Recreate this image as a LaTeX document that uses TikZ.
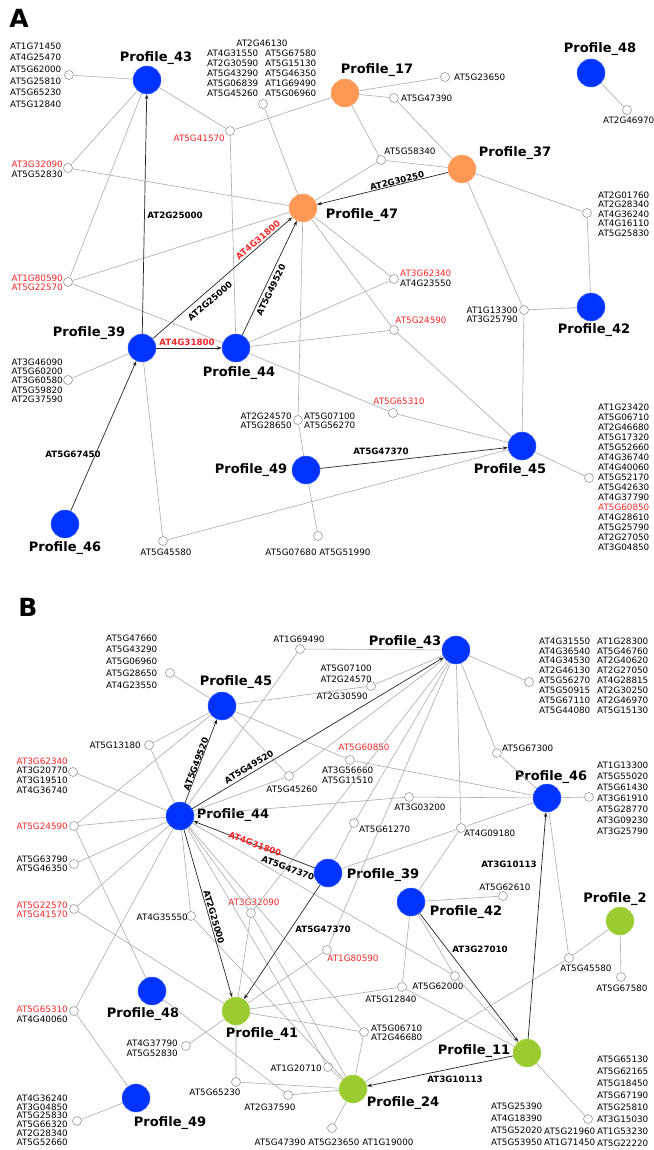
\documentclass[tikz,border=0pt]{standalone}
\usepackage{fontspec}
\setmainfont{DejaVu Sans}
\usetikzlibrary{arrows.meta}
\definecolor{pblue}{RGB}{0,51,255}
\definecolor{porange}{RGB}{253,151,84}
\definecolor{pgreen}{RGB}{154,204,50}
\definecolor{gred}{RGB}{255,40,40}
\definecolor{egray}{RGB}{172,172,172}
\tikzset{
 prof/.style={circle, minimum size=28pt, inner sep=0pt, draw=#1!75!white, line width=0.5pt, fill=#1},
 gc/.style={circle, minimum size=9pt, inner sep=0pt, draw=black!40, fill=white, line width=0.6pt},
 gl/.style={font=\fontsize{8.8}{10}\selectfont, inner sep=0pt, align=left},
 pl/.style={font=\fontsize{13}{15}\selectfont\bfseries, inner sep=0pt},
 el/.style={font=\fontsize{8.7}{10}\selectfont\bfseries, inner sep=0pt},
 ge/.style={draw=egray, line width=0.6pt},
 ar/.style={draw=black!85, line width=0.7pt, -{Stealth[length=5pt,width=3.6pt]}},
 pan/.style={font=\fontsize{25}{28}\selectfont\bfseries, inner sep=0pt},
}
\begin{document}
\begin{tikzpicture}[x=1pt,y=-1pt]
\useasboundingbox[fill=white] (0,0) rectangle (653,1150);
% ================= PANEL A =================
\node[pan] (labA) at (19,18) {A};
% profiles
\node[prof=pblue] (P43) at (147,80) {};
\node[prof=porange] (P17) at (345,93) {};
\node[prof=porange] (P37) at (462,169) {};
\node[prof=pblue] (P48) at (591,73) {};
\node[prof=porange] (P47) at (303,208) {};
\node[prof=pblue] (P39) at (142,348) {};
\node[prof=pblue] (P44) at (236,348) {};
\node[prof=pblue] (P42) at (591,307) {};
\node[prof=pblue] (P45) at (522,446) {};
\node[prof=pblue] (P49) at (306,470) {};
\node[prof=pblue] (P46) at (65,524) {};
\node[pl] (lP43) at (156,58) {Profile\_43};
\node[pl] (lP17) at (377,70) {Profile\_17};
\node[pl] (lP37) at (515,153) {Profile\_37};
\node[pl] (lP48) at (600,49) {Profile\_48};
\node[pl] (lP47) at (362,215) {Profile\_47};
\node[pl] (lP39) at (89,333) {Profile\_39};
\node[pl] (lP44) at (239,373) {Profile\_44};
\node[pl] (lP42) at (594,330) {Profile\_42};
\node[pl] (lP45) at (510,470) {Profile\_45};
\node[pl] (lP49) at (251,470) {Profile\_49};
\node[pl] (lP46) at (65,548) {Profile\_46};
% gene circles
\node[gc] (a1) at (69,75) {};
\node[gc] (a2) at (263,104) {};
\node[gc] (a3) at (230,131) {};
\node[gc] (a4) at (68,168) {};
\node[gc] (a5) at (445,77) {};
\node[gc] (a6) at (394,98) {};
\node[gc] (a7) at (381,160) {};
\node[gc] (a8) at (627,110) {};
\node[gc] (a9) at (587,213) {};
\node[gc] (a10) at (68,282) {};
\node[gc] (a11) at (394,279) {};
\node[gc] (a12) at (394,330) {};
\node[gc] (a13) at (524,310) {};
\node[gc] (a14) at (68,380) {};
\node[gc] (a15) at (298,420) {};
\node[gc] (a16) at (393,413) {};
\node[gc] (a17) at (163,541) {};
\node[gc] (a18) at (318,536) {};
\node[gc] (a19) at (589,478) {};
% gene labels
\node[gl, anchor=west, font=\fontsize{8.8}{11.6}\selectfont] (ta1) at (10,75) {AT1G71450\\AT4G25470\\AT5G62000\\AT5G25810\\AT5G65230\\AT5G12840};
\node[gl] (ta2a) at (262,43) {AT2G46130};
\node[gl, anchor=west] (ta2b) at (207,73) {AT4G31550\\AT2G30590\\AT5G43290\\AT5G06839\\AT5G45260};
\node[gl, anchor=west] (ta2c) at (265,73) {AT5G67580\\AT5G15130\\AT5G46350\\AT1G69490\\AT5G06960};
\node[gl, anchor=east, text=gred] (ta3) at (225,138) {AT5G41570};
\node[gl, anchor=east] (ta4) at (63,169) {\textcolor{gred}{AT3G32090}\\AT5G52830};
\node[gl, anchor=west] (ta5) at (454,77) {AT5G23650};
\node[gl, anchor=west] (ta6) at (401,98) {AT5G47390};
\node[gl] (ta7) at (410,151) {AT5G58340};
\node[gl, anchor=west] (ta8) at (603,120) {AT2G46970};
\node[gl, anchor=west, font=\fontsize{8.8}{9.6}\selectfont] (ta9) at (598,214) {AT2G01760\\AT2G28340\\AT4G36240\\AT4G16110\\AT5G25830};
\node[gl, anchor=east, text=gred, font=\fontsize{8.8}{9.2}\selectfont] (ta10) at (63,282.5) {AT1G80590\\AT5G22570};
\node[gl, anchor=west] (ta11) at (400,278) {\textcolor{gred}{AT3G62340}\\AT4G23550};
\node[gl, text=gred] (ta12) at (421,320) {AT5G24590};
\node[gl, anchor=east, font=\fontsize{8.8}{9.2}\selectfont] (ta13) at (518,314.5) {AT1G13300\\AT3G25790};
\node[gl, anchor=east, font=\fontsize{8.8}{9.3}\selectfont] (ta14) at (63,380.5) {AT3G46090\\AT5G60200\\AT3G60580\\AT5G59820\\AT2G37590};
\node[gl, anchor=east, font=\fontsize{8.8}{9.2}\selectfont] (ta15a) at (292,420.5) {AT2G24570\\AT5G28650};
\node[gl, anchor=west, font=\fontsize{8.8}{9.2}\selectfont] (ta15b) at (304,420.5) {AT5G07100\\AT5G56270};
\node[gl, text=gred] (ta16) at (399,401) {AT5G65310};
\node[gl] (ta17) at (166,552) {AT5G45580};
\node[gl] (ta18) at (318,552) {AT5G07680 AT5G51990};
\node[gl, anchor=west] (ta19) at (598,477) {AT1G23420\\AT5G06710\\AT2G46680\\AT5G17320\\AT5G52660\\AT4G36740\\AT4G40060\\AT5G52170\\AT5G42630\\AT4G37790\\\textcolor{gred}{AT5G60850}\\AT4G28610\\AT5G25790\\AT2G27050\\AT3G04850};
% gray edges
\draw[ge] (P43)--(a1) (P43)--(a3) (P43)--(a4) (P43)--(a10);
\draw[ge] (a3)--(P17) (a3)--(P44) (a2)--(P47) (a4)--(P47);
\draw[ge] (P17)--(a5) (P17)--(a6) (P17)--(a7) (a6)--(P37) (a7)--(P37) (a7)--(P47);
\draw[ge] (P37)--(a9) (P37)--(a13) (a9)--(P42) (P48)--(a8);
\draw[ge] (a13)--(P42) (a13)--(P45);
\draw[ge] (a10)--(P47) (a10)--(P44);
\draw[ge] (P47)--(a11) (P47)--(a12) (P47)--(a15);
\draw[ge] (P44)--(a11) (P44)--(a12) (P44)--(a16);
\draw[ge] (a12)--(P45) (a16)--(P45);
\draw[ge] (P39)--(a14) (P39)--(a17) (a17)--(P45);
\draw[ge] (a15)--(P49) (P49)--(a18) (P45)--(a19);
% arrows
\draw[ar] (P39)--(P43);
\draw[ar] (P39)--(P44);
\draw[ar] (P39)--(P47);
\draw[ar] (P44)--(P47);
\draw[ar] (P37)--(P47);
\draw[ar] (P46)--(P39);
\draw[ar] (P49)--(P45);
\node[el] (e1) at (175,215) {AT2G25000};
\node[el, text=gred] (e2) at (187,342) {AT4G31800};
\node[el, rotate=41] (e3) at (210,301) {AT2G25000};
\node[el, text=gred, rotate=41] (e4) at (258,240) {AT4G31800};
\node[el, rotate=64] (e5) at (271,290) {AT5G49520};
\node[el, rotate=14] (e6) at (397,181) {AT2G30250};
\node[el] (e7) at (73,454) {AT5G67450};
\node[el] (e8) at (381,451) {AT5G47370};
% ================= PANEL B =================
\node[pan] (labB) at (28,607) {B};
\node[prof=pblue] (Q45) at (222,706) {};
\node[prof=pblue] (Q43) at (456,650) {};
\node[prof=pblue] (Q44) at (180,816) {};
\node[prof=pblue] (Q46) at (547,798) {};
\node[prof=pblue] (Q39) at (328,873) {};
\node[prof=pblue] (Q42) at (411,902) {};
\node[prof=pgreen] (Q2) at (620,921) {};
\node[prof=pblue] (Q48) at (152,991) {};
\node[prof=pgreen] (Q41) at (236,1011) {};
\node[prof=pgreen] (Q11) at (527,1053) {};
\node[prof=pgreen] (Q24) at (353,1089) {};
\node[prof=pblue] (Q49) at (136,1098) {};
\node[pl] (lQ45) at (236,682) {Profile\_45};
\node[pl] (lQ43) at (405,642) {Profile\_43};
\node[pl] (lQ44) at (233,815) {Profile\_44};
\node[pl] (lQ46) at (551,777) {Profile\_46};
\node[pl] (lQ39) at (383,875) {Profile\_39};
\node[pl] (lQ42) at (466,912) {Profile\_42};
\node[pl] (lQ2) at (615,899) {Profile\_2};
\node[pl] (lQ48) at (143,1014) {Profile\_48};
\node[pl] (lQ41) at (262,1034) {Profile\_41};
\node[pl] (lQ11) at (474,1051) {Profile\_11};
\node[pl] (lQ24) at (403,1103) {Profile\_24};
\node[pl] (lQ49) at (170,1123) {Profile\_49};
% gene circles
\node[gc] (g1) at (170,673) {};
\node[gc] (g2) at (149,745) {};
\node[gc] (g3) at (300,649) {};
\node[gc] (g4) at (371,686) {};
\node[gc] (g5) at (529,682) {};
\node[gc] (g6) at (497,753) {};
\node[gc] (g7) at (73,772) {};
\node[gc] (g8) at (289,776) {};
\node[gc] (g9) at (350,760) {};
\node[gc] (g10) at (74,826) {};
\node[gc] (g11) at (74,864) {};
\node[gc] (g12) at (74,909) {};
\node[gc] (g13) at (191,916) {};
\node[gc] (g14) at (251,913) {};
\node[gc] (g15) at (409,797) {};
\node[gc] (g16) at (354,823) {};
\node[gc] (g17) at (461,828) {};
\node[gc] (g18) at (589,797) {};
\node[gc] (g19) at (503,896) {};
\node[gc] (g20) at (327,950) {};
\node[gc] (g21) at (569,958) {};
\node[gc] (g22) at (621,977) {};
\node[gc] (g23) at (455,976) {};
\node[gc] (g24) at (402,987) {};
\node[gc] (g25) at (364,1032) {};
\node[gc] (g26) at (74,1011) {};
\node[gc] (g27) at (186,1046) {};
\node[gc] (g28) at (328,1067) {};
\node[gc] (g29) at (236,1082) {};
\node[gc] (g30) at (288,1095) {};
\node[gc] (g31) at (77,1121) {};
\node[gc] (g32) at (588,1119) {};
\node[gc] (g33) at (332,1128) {};
% gene labels
\node[gl, anchor=west, font=\fontsize{8.8}{11.75}\selectfont] (tg1) at (106,661.5) {AT5G47660\\AT5G43290\\AT5G06960\\AT5G28650\\AT4G23550};
\node[gl, anchor=east] (tg2) at (141,745) {AT5G13180};
\node[gl] (tg3) at (299,639) {AT1G69490};
\node[gl, anchor=east, font=\fontsize{8.8}{11}\selectfont] (tg4a) at (372,673.5) {AT5G07100\\AT2G24570};
\node[gl, anchor=east] (tg4b) at (368,696) {AT2G30590};
\node[gl, anchor=west, font=\fontsize{8.8}{9.86}\selectfont] (tg5a) at (539,675.5) {AT4G31550\\AT4G36540\\AT4G34530\\AT2G46130\\AT5G56270\\AT5G50915\\AT5G67110\\AT5G44080};
\node[gl, anchor=west, font=\fontsize{8.8}{9.86}\selectfont] (tg5b) at (597,675.5) {AT1G28300\\AT5G46760\\AT2G40620\\AT2G27050\\AT4G28815\\AT2G30250\\AT2G46970\\AT5G15130};
\node[gl, anchor=west] (tg6) at (502,748) {AT5G67300};
\node[gl, anchor=east, font=\fontsize{8.8}{9.67}\selectfont] (tg7) at (68,775.5) {\textcolor{gred}{AT3G62340}\\AT3G20770\\AT3G19510\\AT4G36740};
\node[gl] (tg8) at (292,789) {AT5G45260};
\node[gl, text=gred] (tg9a) at (364,747) {AT5G60850};
\node[gl, anchor=west] (tg9b) at (322,775) {AT3G56660\\AT5G11510};
\node[gl, anchor=east, text=gred] (tg10) at (68,826) {AT5G24590};
\node[gl, anchor=east, font=\fontsize{8.8}{9}\selectfont] (tg11) at (68,863.5) {AT5G63790\\AT5G46350};
\node[gl, anchor=east, text=gred, font=\fontsize{8.8}{9}\selectfont] (tg12) at (68,910) {AT5G22570\\AT5G41570};
\node[gl, anchor=east] (tg13) at (188,917) {AT4G35550};
\node[gl, text=gred] (tg14) at (254,902) {AT3G32090};
\node[gl] (tg15) at (420,807) {AT3G03200};
\node[gl, anchor=west] (tg16) at (359,829) {AT5G61270};
\node[gl, anchor=west] (tg17) at (464,833) {AT4G09180};
\node[gl, anchor=west, font=\fontsize{8.8}{11}\selectfont] (tg18) at (597,798) {AT1G13300\\AT5G55020\\AT5G61430\\AT3G61910\\AT5G28770\\AT3G09230\\AT3G25790};
\node[gl] (tg19) at (505,887) {AT5G62610};
\node[gl, text=gred] (tg20) at (353,958) {AT1G80590};
\node[gl] (tg21) at (586,968) {AT5G45580};
\node[gl] (tg22) at (622,988) {AT5G67580};
\node[gl] (tg23) at (438,986) {AT5G62000};
\node[gl] (tg24) at (391,999) {AT5G12840};
\node[gl, anchor=west, font=\fontsize{8.8}{9}\selectfont] (tg25) at (371,1032.5) {AT5G06710\\AT2G46680};
\node[gl, anchor=east] (tg26) at (68,1014) {\textcolor{gred}{AT5G65310}\\AT4G40060};
\node[gl, anchor=east] (tg27) at (178,1048) {AT4G37790\\AT5G52830};
\node[gl, anchor=east] (tg28) at (322,1068) {AT1G20710};
\node[gl] (tg29) at (215,1092) {AT5G65230};
\node[gl] (tg30) at (270,1107) {AT2G37590};
\node[gl, anchor=east, font=\fontsize{8.8}{8.8}\selectfont] (tg31) at (68,1120) {AT4G36240\\AT3G04850\\AT5G25830\\AT5G66320\\AT2G28340\\AT5G52660};
\node[gl, anchor=west, font=\fontsize{8.8}{12}\selectfont] (tg32a) at (597,1101) {AT5G65130\\AT5G62165\\AT5G18450\\AT5G67190\\AT5G25810\\AT3G15030\\AT1G53230\\AT5G22220};
\node[gl, anchor=west, font=\fontsize{8.8}{12}\selectfont] (tg32b) at (491,1124) {AT5G25390\\AT4G18390\\AT5G52020\\AT5G53950};
\node[gl, anchor=west, font=\fontsize{8.8}{11}\selectfont] (tg32c) at (544,1136.5) {AT5G21960\\AT1G71450};
\node[gl] (tg33) at (334,1142) {AT5G47390 AT5G23650 AT1G19000};
% gray edges
\draw[ge] (Q45)--(g1) (Q45)--(g2) (Q45)--(g4) (Q45)--(g8) (Q45)--(g9) (Q45)--(g10);
\draw[ge] (Q43)--(g3) (Q43)--(g4) (Q43)--(g5) (Q43)--(g6) (Q43)--(g8) (Q43)--(g14) (Q43)--(g16) (Q43)--(g20) (Q43)--(g17);
\draw[ge] (Q44)--(g2) (Q44)--(g3) (Q44)--(g7) (Q44)--(g8) (Q44)--(g10) (Q44)--(g11) (Q44)--(g12) (Q44)--(g13) (Q44)--(g14) (Q44)--(g15) (Q44)--(g23) (Q44)--(g26) (Q44)--(g25) (Q44)--(g28);
\draw[ge] (Q46)--(g6) (Q46)--(g9) (Q46)--(g15) (Q46)--(g17) (Q46)--(g18) (Q46)--(g21);
\draw[ge] (Q39)--(g17) (Q39)--(g16);
\draw[ge] (Q42)--(g17) (Q42)--(g19) (Q42)--(g23) (Q42)--(g24);
\draw[ge] (Q11)--(g23) (Q11)--(g24) (Q11)--(g32);
\draw[ge] (Q24)--(g21) (Q24)--(g25) (Q24)--(g28) (Q24)--(g29) (Q24)--(g30) (Q24)--(g33) (Q24)--(g13) (Q24)--(g14);
\draw[ge] (Q41)--(g12) (Q41)--(g14) (Q41)--(g20) (Q41)--(g24) (Q41)--(g25) (Q41)--(g27) (Q41)--(g29);
\draw[ge] (Q48)--(g10) (Q48)--(g30) (Q49)--(g26) (Q49)--(g31) (Q2)--(g21) (Q2)--(g22);
% arrows
\draw[ar] (Q44)--(Q45);
\draw[ar] (Q44)--(Q43);
\draw[ar] (Q39)--(Q44);
\draw[ar] (Q44)--(Q41);
\draw[ar] (Q39)--(Q41);
\draw[ar] (Q11)--(Q46);
\draw[ar] (Q42)--(Q11);
\draw[ar] (Q11)--(Q24);
\node[el, rotate=69] (f1) at (196,764) {AT5G49520};
\node[el, rotate=31] (f2) at (249,767) {AT5G49520};
\node[el, rotate=-21, text=gred] (f3) at (255,844) {AT4G31800};
\node[el, rotate=-21] (f4) at (288,868) {AT5G47370};
\node[el, rotate=-74] (f5) at (214,917) {AT2G25000};
\node[el] (f6) at (323,929) {AT5G47370};
\node[el] (f7) at (509,864) {AT3G10113};
\node[el] (f8) at (480,949) {AT3G27010};
\node[el] (f9) at (455,1079) {AT3G10113};
\end{tikzpicture}
\end{document}
